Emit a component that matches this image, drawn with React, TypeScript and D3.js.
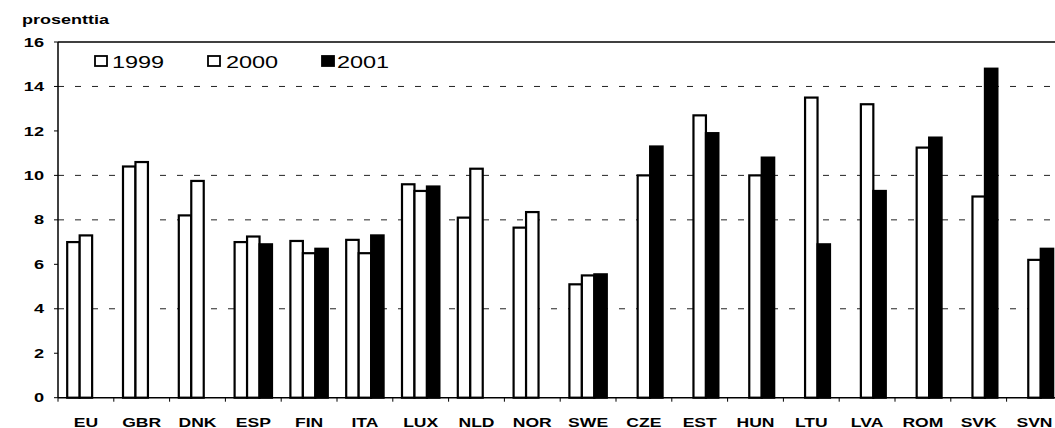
import React, { useEffect, useRef } from 'react';
import * as d3 from 'd3';

const categories = ['EU', 'GBR', 'DNK', 'ESP', 'FIN', 'ITA', 'LUX', 'NLD', 'NOR', 'SWE', 'CZE', 'EST', 'HUN', 'LTU', 'LVA', 'ROM', 'SVK', 'SVN'];
const seriesNames = ['1999', '2000', '2001'];
const v1999 = [7.0, 10.4, 8.2, 7.0, 7.05, 7.1, 9.6, 8.1, 7.65, 5.1, null, null, null, null, null, null, null, null];
const v2000 = [7.3, 10.6, 9.75, 7.25, 6.5, 6.5, 9.3, 10.3, 8.35, 5.5, 10.0, 12.7, 10.0, 13.5, 13.2, 11.25, 9.05, 6.2];
const v2001 = [null, null, null, 6.9, 6.7, 7.3, 9.5, null, null, 5.55, 11.3, 11.9, 10.8, 6.9, 9.3, 11.7, 14.8, 6.7];
const yTicks = [0, 2, 4, 6, 8, 10, 12, 14, 16];
const gridValues = [4, 8, 10, 14];

const W = 1055;
const H = 428;
const STRETCH = 1.4; // scanned original is widened horizontally

const App: React.FC = () => {
  const svgRef = useRef<SVGSVGElement | null>(null);

  useEffect(() => {
    const svg = d3.select(svgRef.current);
    svg.selectAll('*').remove();

    const left = 58;
    const catW = 55.8;
    const right = left + categories.length * catW;
    const top = 42;
    const bottom = 397.7;

    const x0 = d3.scaleBand<string>().domain(categories).range([left, right]).padding(0);
    const x1 = d3.scaleBand<string>().domain(seriesNames).range([9.2, catW - 9.2]).padding(0);
    const y = d3.scaleLinear().domain([0, 16]).range([bottom, top]);

    const font = 'Arial, "Liberation Sans", sans-serif';

    // dashed gridlines (scan shows only some of them)
    svg.append('g')
      .selectAll('line')
      .data(gridValues)
      .enter()
      .append('line')
      .attr('x1', left)
      .attr('x2', right)
      .attr('y1', d => y(d))
      .attr('y2', d => y(d))
      .attr('stroke', '#222')
      .attr('stroke-width', 1)
      .attr('stroke-dasharray', '6 11');

    // bars
    const series = [
      { name: '1999', values: v1999, fill: '#fff' },
      { name: '2000', values: v2000, fill: '#fff' },
      { name: '2001', values: v2001, fill: '#000' },
    ];
    series.forEach(s => {
      const data = categories
        .map((c, i) => ({ c, v: s.values[i] }))
        .filter(d => d.v != null) as { c: string; v: number }[];
      svg.append('g')
        .selectAll('rect')
        .data(data)
        .enter()
        .append('rect')
        .attr('x', d => (x0(d.c) as number) + (x1(s.name) as number))
        .attr('y', d => y(d.v))
        .attr('width', x1.bandwidth())
        .attr('height', d => bottom - y(d.v))
        .attr('fill', s.fill)
        .attr('stroke', '#000')
        .attr('stroke-width', 2.2);
    });

    // frame: top line, left axis, baseline
    svg.append('line').attr('x1', left).attr('x2', right).attr('y1', top).attr('y2', top)
      .attr('stroke', '#000').attr('stroke-width', 1.5);
    svg.append('line').attr('x1', left).attr('x2', left).attr('y1', top).attr('y2', bottom)
      .attr('stroke', '#000').attr('stroke-width', 1.5);
    svg.append('line').attr('x1', left).attr('x2', right).attr('y1', bottom).attr('y2', bottom)
      .attr('stroke', '#000').attr('stroke-width', 1.5);

    // y ticks and labels
    const yg = svg.append('g');
    yg.selectAll('line')
      .data(yTicks)
      .enter()
      .append('line')
      .attr('x1', left - 4)
      .attr('x2', left)
      .attr('y1', d => y(d))
      .attr('y2', d => y(d))
      .attr('stroke', '#000');
    yg.selectAll('text')
      .data(yTicks)
      .enter()
      .append('text')
      .attr('transform', d => `translate(44,${y(d) + 4.6}) scale(${STRETCH},1)`)
      .attr('text-anchor', 'end')
      .attr('font-family', font)
      .attr('font-weight', 'bold')
      .attr('font-size', 13)
      .text(d => d);

    // x ticks and labels
    const xg = svg.append('g');
    xg.selectAll('line')
      .data(d3.range(categories.length + 1))
      .enter()
      .append('line')
      .attr('x1', i => left + i * catW)
      .attr('x2', i => left + i * catW)
      .attr('y1', bottom)
      .attr('y2', bottom + 4)
      .attr('stroke', '#000');
    xg.selectAll('text')
      .data(categories)
      .enter()
      .append('text')
      .attr('transform', d => `translate(${(x0(d) as number) + x0.bandwidth() / 2},426.5) scale(${STRETCH - 0.05},1)`)
      .attr('text-anchor', 'middle')
      .attr('font-family', font)
      .attr('font-weight', 'bold')
      .attr('font-size', 13)
      .text(d => d);

    // unit label
    svg.append('text')
      .attr('transform', `translate(22,24) scale(${STRETCH + 0.1},1)`)
      .attr('font-family', font)
      .attr('font-weight', 'bold')
      .attr('font-size', 12)
      .text('prosenttia');

    // legend
    const legendItems = [
      { name: '1999', fill: '#fff', sx: 95, tx: 112 },
      { name: '2000', fill: '#fff', sx: 208, tx: 226 },
      { name: '2001', fill: '#000', sx: 322, tx: 337 },
    ];
    const lg = svg.append('g');
    legendItems.forEach(it => {
      lg.append('rect')
        .attr('x', it.sx)
        .attr('y', 56)
        .attr('width', 12)
        .attr('height', 10)
        .attr('fill', it.fill)
        .attr('stroke', '#000')
        .attr('stroke-width', 1.8);
      lg.append('text')
        .attr('transform', `translate(${it.tx},67.5) scale(${STRETCH - 0.02},1)`)
        .attr('font-family', font)
        .attr('font-size', 17)
        .text(it.name);
    });
  }, []);

  return (
    <svg
      ref={svgRef}
      width={W}
      height={H}
      style={{ position: 'absolute', left: 0, top: 0, background: '#fff', overflow: 'hidden' }}
    />
  );
};

export default App;
